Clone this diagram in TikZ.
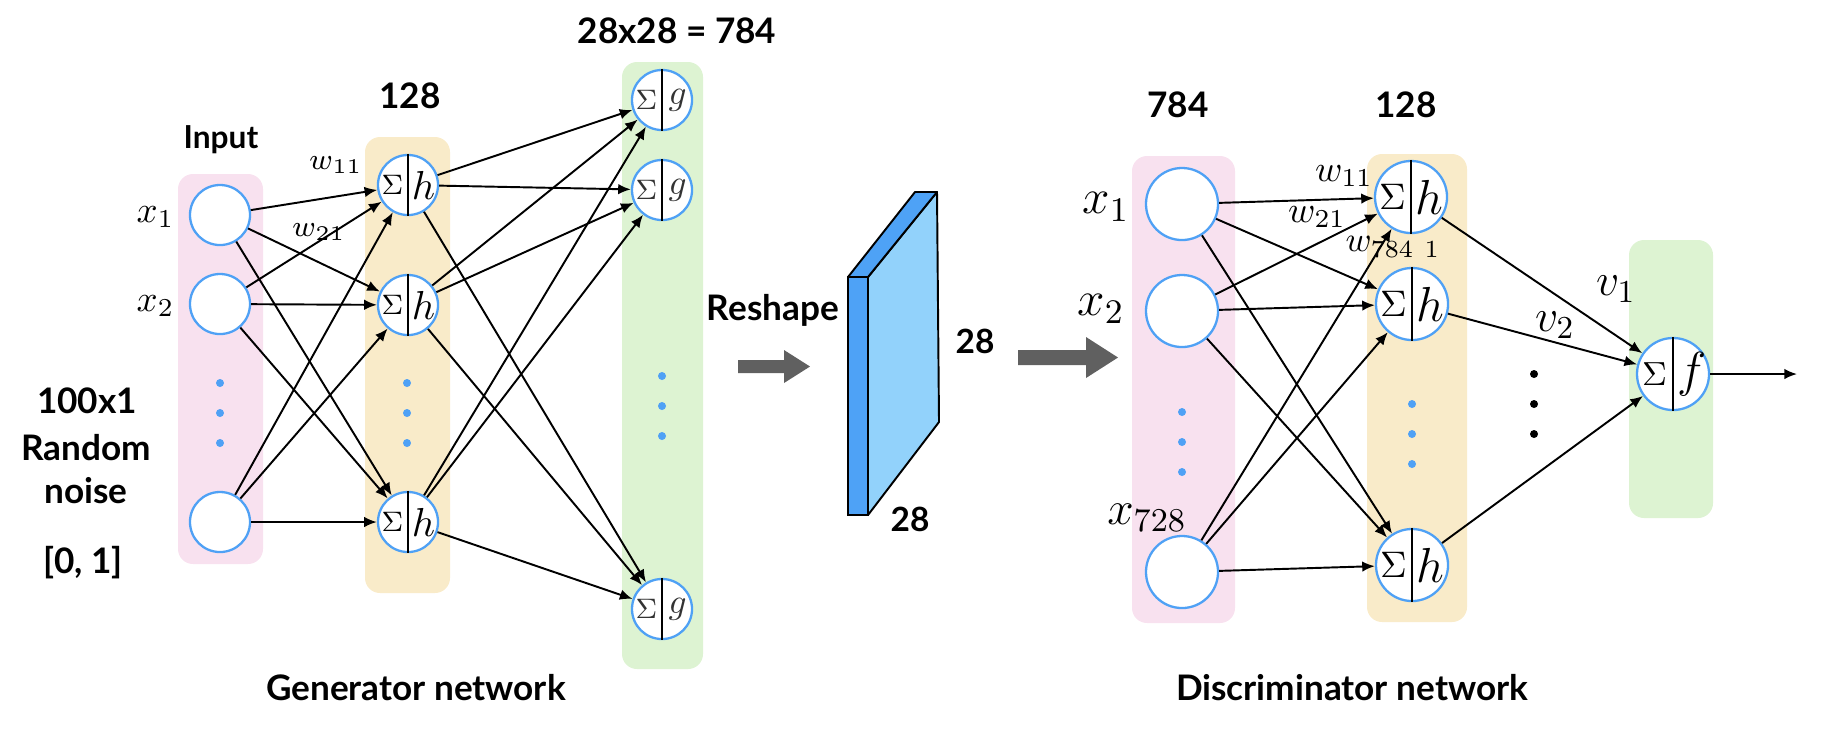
\RequirePackage{fix-cm}
\documentclass[tikz,border=0pt]{standalone}
\usepackage{fontspec}
\setsansfont{Lato}
\usetikzlibrary{arrows.meta,calc}
\definecolor{pinkbg}{HTML}{F8E1EF}
\definecolor{yellowbg}{HTML}{F9EBC9}
\definecolor{greenbg}{HTML}{DDF3D2}
\definecolor{nodeblue}{HTML}{4FA1F5}
\definecolor{arrowgray}{HTML}{606060}
\definecolor{cubedark}{HTML}{4EA2F6}
\definecolor{cubelight}{HTML}{92D2FB}
\definecolor{symgray}{HTML}{333333}
\newcommand{\fs}[1]{\fontsize{#1}{#1}\selectfont}
\newcommand{\nrn}[7]{%
  \node[neuron, minimum size=#3] (#1) at #2 {};
  \draw[divider] (#1.north) -- (#1.south);
  \node[inner sep=0pt, text=#7, font=#5] at ($(#1.center)!0.5!(#1.west)$) {$\Sigma$};
  \node[inner sep=0pt, text=#7, font=#6] at ($(#1.center)!0.5!(#1.east)$) {$#4$};
}
\tikzset{
  neuron/.style={circle, draw=nodeblue, fill=white, line width=0.65pt, inner sep=0pt},
  divider/.style={line width=0.6pt, black},
  conn/.style={-{Latex[length=3.6pt,width=3pt]}, line width=0.55pt},
  lbl/.style={font=\sffamily\bfseries\fs{10}, inner sep=0pt, anchor=base},
  panel/.style={rounded corners=0.15cm},
  bluedot/.style={fill=nodeblue},
}
\begin{document}
\begin{tikzpicture}[x=0.01cm,y=-0.01cm]
\useasboundingbox (0,0) rectangle (1846,732);
% panels
\fill[pinkbg, panel] (178,174) rectangle (263,564);
\fill[yellowbg, panel] (365,137) rectangle (450,593);
\fill[greenbg, panel] (622,62) rectangle (703,669);
\fill[pinkbg, panel] (1132,156) rectangle (1235,623);
\fill[yellowbg, panel] (1367,154) rectangle (1467,622);
\fill[greenbg, panel] (1629,240) rectangle (1713,518);

% generator nodes
\node[neuron, minimum size=0.6cm] (gx1) at (220,215) {};
\node[neuron, minimum size=0.6cm] (gx2) at (220,304) {};
\node[neuron, minimum size=0.6cm] (gx3) at (220,522) {};
\nrn{gh1}{(408,185)}{0.6cm}{h}{\fs{8}}{\fs{11.5}}{black}
\nrn{gh2}{(408,305)}{0.6cm}{h}{\fs{8}}{\fs{11.5}}{black}
\nrn{gh3}{(408,522)}{0.6cm}{h}{\fs{8}}{\fs{11.5}}{black}
\nrn{go1}{(662,100)}{0.6cm}{g}{\fs{8}}{\fs{10}}{symgray}
\nrn{go2}{(662,190)}{0.6cm}{g}{\fs{8}}{\fs{10}}{symgray}
\nrn{go3}{(662,609)}{0.6cm}{g}{\fs{8}}{\fs{10}}{symgray}

% discriminator nodes
\node[neuron, minimum size=0.72cm] (dx1) at (1182,204) {};
\node[neuron, minimum size=0.72cm] (dx2) at (1182,311) {};
\node[neuron, minimum size=0.72cm] (dx3) at (1182,572) {};
\nrn{dh1}{(1411,197)}{0.72cm}{h}{\fs{10.5}}{\fs{14}}{black}
\nrn{dh2}{(1412,304)}{0.72cm}{h}{\fs{10.5}}{\fs{14}}{black}
\nrn{dh3}{(1412,565)}{0.72cm}{h}{\fs{10.5}}{\fs{14}}{black}
\nrn{df}{(1673,374)}{0.72cm}{f}{\fs{9.5}}{\fs{14}}{black}
\coordinate (out) at (1797,374);

% dots
\foreach \y in {383,413,443} {\fill[bluedot] (220,\y) circle (0.04cm); \fill[bluedot] (407,\y) circle (0.04cm);}
\foreach \y in {376,406,436} {\fill[bluedot] (662,\y) circle (0.04cm);}
\foreach \y in {412,442,472} {\fill[bluedot] (1182,\y) circle (0.04cm);}
\foreach \y in {404,434,464} {\fill[bluedot] (1412,\y) circle (0.04cm);}
\foreach \y in {374,404,434} {\fill[black] (1534,\y) circle (0.04cm);}

% generator connectors
\foreach \s in {gx1,gx2,gx3} \foreach \t in {gh1,gh2,gh3} {\draw[conn] (\s) -- (\t);}
\foreach \s in {gh1,gh2,gh3} \foreach \t in {go1,go2,go3} {\draw[conn] (\s) -- (\t);}
% discriminator connectors
\foreach \s in {dx1,dx2,dx3} \foreach \t in {dh1,dh2,dh3} {\draw[conn] (\s) -- (\t);}
\foreach \s in {dh1,dh2,dh3} {\draw[conn] (\s) -- (df);}
\draw[conn] (df) -- (out);

% math labels
\node[anchor=east, inner sep=0pt, font=\fs{10.5}] at (175,217) {$x_1$};
\node[anchor=east, inner sep=0pt, font=\fs{10.5}] at (175,306) {$x_2$};
\node[inner sep=0pt, font=\fs{8.5}] at (336,165) {$w_{11}$};
\node[inner sep=0pt, font=\fs{8.5}] at (319,232) {$w_{21}$};
\node[anchor=east, inner sep=0pt, font=\fs{14}] at (1130,207) {$x_1$};
\node[anchor=east, inner sep=0pt, font=\fs{14}] at (1125,309) {$x_2$};
\node[inner sep=0pt, font=\fs{13.5}] at (1147,518) {$x_{728}$};
\node[inner sep=0pt, font=\fs{10.5}] at (1344,176) {$w_{11}$};
\node[inner sep=0pt, font=\fs{10.5}] at (1317,217) {$w_{21}$};
\node[inner sep=0pt, font=\fs{10}] at (1393,247) {$w_{784\ 1}$};
\node[inner sep=0pt, font=\fs{13}] at (1616,289) {$v_1$};
\node[inner sep=0pt, font=\fs{13}] at (1555,325) {$v_2$};

% reshape block
\filldraw[fill=cubelight, draw=black, line width=0.55pt, line join=round] (868,277) -- (937,192) -- (939,422) -- (868,515) -- cycle;
\filldraw[fill=cubedark, draw=black, line width=0.55pt, line join=round] (848,277) -- (915,192) -- (937,192) -- (868,277) -- cycle;
\filldraw[fill=cubedark, draw=black, line width=0.55pt] (848,277) rectangle (868,515);

% gray arrows
\fill[arrowgray] (738,360) -- (784,360) -- (784,350) -- (810,366.5) -- (784,383) -- (784,373) -- (738,373) -- cycle;
\fill[arrowgray] (1018,350) -- (1086,350) -- (1086,337) -- (1118,357.5) -- (1086,378) -- (1086,365) -- (1018,365) -- cycle;

% text labels
\node[lbl, font=\sffamily\bfseries\fs{9}] at (221,148) {Input};
\node[lbl] at (410,108) {128};
\node[lbl] at (677,43) {28x28 = 784};
\node[lbl] at (87,413) {100x1};
\node[lbl] at (86,460) {Random};
\node[lbl] at (86,503) {noise};
\node[lbl] at (83,573) {[0, 1]};
\node[lbl] at (773,320) {Reshape};
\node[lbl, font=\sffamily\bfseries\fs{9.5}] at (975,353) {28};
\node[lbl, font=\sffamily\bfseries\fs{9.5}] at (910,531) {28};
\node[lbl] at (1178,117) {784};
\node[lbl] at (1406,117) {128};
\node[lbl] at (416,700) {Generator network};
\node[lbl] at (1352,700) {Discriminator network};
\end{tikzpicture}
\end{document}
